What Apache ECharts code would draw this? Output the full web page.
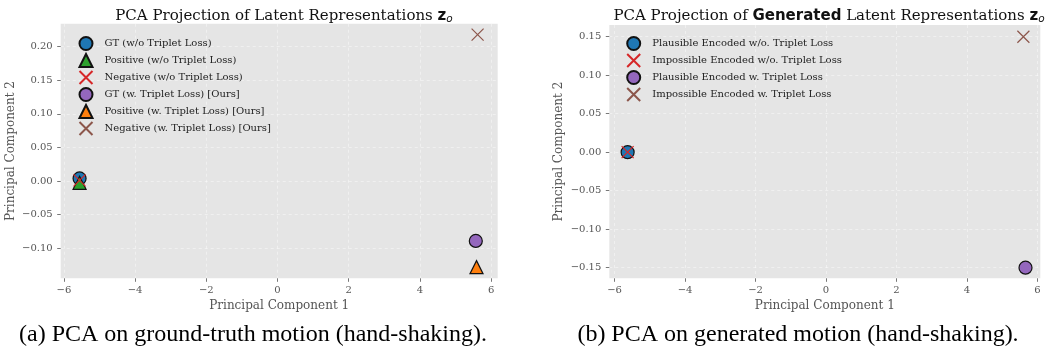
<!DOCTYPE html>
<html><head><meta charset="utf-8">
<script src="https://cdn.jsdelivr.net/npm/echarts@6/dist/echarts.min.js"></script>
<style>html,body{margin:0;padding:0;background:#fff}#c{width:1050px;height:350px}</style>
</head><body><div id="c"></div>
<script>
// ---- data ----
const xTicks = [-6, -4, -2, 0, 2, 4, 6];
const yTicksA = [-0.10, -0.05, 0.00, 0.05, 0.10, 0.15, 0.20];
const yTicksB = [-0.15, -0.10, -0.05, 0.00, 0.05, 0.10, 0.15];

const namesA = ['GT (w/o Triplet Loss)', 'Positive (w/o Triplet Loss)', 'Negative (w/o Triplet Loss)',
  'GT (w. Triplet Loss) [Ours]', 'Positive (w. Triplet Loss) [Ours]', 'Negative (w. Triplet Loss) [Ours]'];
const pointsA = [[-5.56, 0.004], [-5.56, -0.0025], [-5.56, 0.001], [5.57, -0.089], [5.59, -0.128], [5.62, 0.218]];

const namesB = ['Plausible Encoded w/o. Triplet Loss', 'Impossible Encoded w/o. Triplet Loss',
  'Plausible Encoded w. Triplet Loss', 'Impossible Encoded w. Triplet Loss'];
const pointsB = [[-5.63, 0.0], [-5.63, 0.0], [5.66, -0.15], [5.6, 0.15]];

const captionA = '(a) PCA on ground-truth motion (hand-shaking).';
const captionB = '(b) PCA on generated motion (hand-shaking).';

// ---- style ----
const XPATH = 'path://M0,0L10,10M0,10L10,0';
const shapesA = ['circle', 'triangle', 'x', 'circle', 'triangle', 'x'];
const colorsA = ['#1f77b4', '#2ca02c', '#d62728', '#9467bd', '#ff7f0e', '#8c564b'];
const shapesB = ['circle', 'x', 'circle', 'x'];
const colorsB = ['#1f77b4', '#d62728', '#9467bd', '#8c564b'];

const SERIF = '"DejaVu Serif", serif';
const tickColor = '#555';

function fmt(v, d) {
  const r = Math.round(v * Math.pow(10, d)) / Math.pow(10, d);
  if (Math.abs(r) < 1e-12) return (0).toFixed(d);
  return (r < 0 ? '\u2212' : '') + Math.abs(r).toFixed(d);
}

const gridLine = { show: true, lineStyle: { color: 'rgba(255,255,255,0.55)', width: 0.8, type: [3, 3] } };

function xAxis(gridIndex, min, max) {
  return {
    type: 'value', gridIndex, min, max,
    name: 'Principal Component 1', nameLocation: 'middle', nameGap: 20,
    nameTextStyle: { fontFamily: SERIF, fontSize: 12, color: tickColor },
    axisLine: { show: false, onZero: false },
    axisTick: { show: true, length: 3.5, lineStyle: { color: tickColor, width: 0.8 }, customValues: xTicks },
    axisLabel: { customValues: xTicks, fontFamily: SERIF, fontSize: 10, color: tickColor, margin: 7,
      formatter: v => fmt(v, 0) },
    splitLine: gridLine
  };
}
function yAxis(gridIndex, min, max, ticks) {
  return {
    type: 'value', gridIndex, min, max,
    name: 'Principal Component 2', nameLocation: 'middle', nameGap: 44,
    nameTextStyle: { fontFamily: SERIF, fontSize: 12, color: tickColor },
    axisLine: { show: false, onZero: false },
    axisTick: { show: true, length: 3.5, lineStyle: { color: tickColor, width: 0.8 }, customValues: ticks },
    axisLabel: { customValues: ticks, fontFamily: SERIF, fontSize: 10, color: tickColor, margin: 8,
      formatter: v => fmt(v, 2) },
    splitLine: gridLine
  };
}

function makeSeries(names, points, shapes, colors, idx) {
  return names.map((n, i) => {
    const isX = shapes[i] === 'x';
    return {
      type: 'scatter', name: n, xAxisIndex: idx, yAxisIndex: idx,
      data: [points[i]],
      symbol: isX ? XPATH : shapes[i],
      symbolSize: isX ? 12 : 13,
      symbolKeepAspect: true,
      itemStyle: isX
        ? { color: 'rgba(0,0,0,0)', borderColor: colors[i], borderWidth: 1.2, opacity: 1 }
        : { color: colors[i], borderColor: '#111', borderWidth: 1.2, opacity: 1 },
      emphasis: { disabled: true },
      z: 2 + i
    };
  });
}

const titleRich = {
  r: { fontFamily: SERIF, fontWeight: 'normal', fontSize: 15, color: '#111' },
  g: { fontFamily: '"DejaVu Sans", sans-serif', fontWeight: 'bold', fontSize: 15, color: '#111' },
  z: { fontFamily: '"DejaVu Sans", sans-serif', fontWeight: 'bold', fontSize: 15, color: '#111' },
  o: { fontFamily: '"DejaVu Sans", sans-serif', fontWeight: 'normal', fontStyle: 'italic', fontSize: 10.5, color: '#111', padding: [6, 0, 0, 0] }
};

const gridA = { left: 60.7, top: 23.7, width: 437, height: 254.6, show: true, backgroundColor: '#e5e5e5', borderWidth: 0 };
const gridB = { left: 609.3, top: 25, width: 431, height: 253.3, show: true, backgroundColor: '#e5e5e5', borderWidth: 0 };

const legendText = { fontFamily: SERIF, fontSize: 10, color: '#222', padding: [0, 0, 0, 7] };

const chart = echarts.init(document.getElementById('c'), null, { renderer: 'canvas' });
chart.setOption({
  animation: false,
  backgroundColor: '#fff',
  grid: [gridA, gridB],
  title: [
    { text: '{r|PCA Projection of Latent Representations }{z|z}{o|o}', left: 279, top: 3, textAlign: 'center',
      textStyle: { fontWeight: 'normal', rich: titleRich } },
    { text: '{r|PCA Projection of }{g|Generated}{r| Latent Representations }{z|z}{o|o}', left: 824, top: 3, textAlign: 'center',
      textStyle: { fontWeight: 'normal', rich: titleRich } }
  ],
  legend: [
    { data: namesA, orient: 'vertical', left: 73.5, top: 31, itemWidth: 13, itemHeight: 13, itemGap: 2,
      textStyle: legendText, selectedMode: false },
    { data: namesB, orient: 'vertical', left: 621.2, top: 31, itemWidth: 13, itemHeight: 13, itemGap: 2,
      textStyle: legendText, selectedMode: false }
  ],
  xAxis: [xAxis(0, -6.09, 6.185), xAxis(1, -6.15, 6.08)],
  yAxis: [yAxis(0, -0.1446, 0.2342, yTicksA), yAxis(1, -0.1638, 0.1652, yTicksB)],
  series: makeSeries(namesA, pointsA, shapesA, colorsA, 0).concat(makeSeries(namesB, pointsB, shapesB, colorsB, 1)),
  graphic: [
    { type: 'text', x: 253, y: 335, style: { text: captionA, font: '24px "Liberation Serif", serif', fill: '#000', align: 'center', verticalAlign: 'middle' } },
    { type: 'text', x: 798, y: 335, style: { text: captionB, font: '24px "Liberation Serif", serif', fill: '#000', align: 'center', verticalAlign: 'middle' } }
  ]
});
</script></body></html>
